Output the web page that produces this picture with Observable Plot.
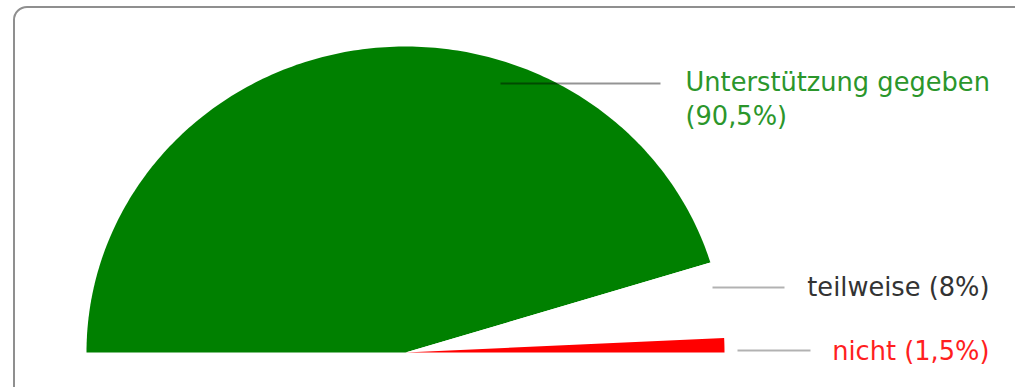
<!DOCTYPE html>
<html>
<head>
<meta charset="utf-8">
<script src="https://cdn.jsdelivr.net/npm/d3@7"></script>
<script src="https://cdn.jsdelivr.net/npm/@observablehq/plot@0.6"></script>
<style>
  html, body { margin: 0; padding: 0; background: #fff; }
  body { width: 1015px; height: 387px; overflow: hidden; position: relative; font-family: "DejaVu Sans", sans-serif; }
  #frame { position: absolute; left: 13px; top: 6px; width: 1040px; height: 420px; border: 2px solid #8f8f8f; border-radius: 14px; box-sizing: border-box; }
  #chart { position: absolute; left: 0; top: 0; }
</style>
</head>
<body>
<div id="frame"></div>
<div id="chart"></div>
<script>
// ---- data ----
const categories = ["Unterstützung gegeben", "teilweise", "nicht"];
const shares = [90.5, 8, 1.5];
const sliceColors = ["#008000", "#ffffff", "#ff0000"];
const labelColors = ["#2b962b", "#333333", "#ff1f1f"];

// ---- geometry (half pie, left -> right) ----
const W = 1015, H = 387;
const cx = 405, cy = 352, rx = 319, ry = 306;
const X = px => (px - cx) / rx;   // pixel -> data helpers for annotation layout
const Y = py => (cy - py) / ry;

const total = d3.sum(shares);
let cum = 0;
const slices = categories.map((c, i) => {
  const a0 = Math.PI * (1 - cum / total);
  cum += shares[i];
  const a1 = Math.PI * (1 - cum / total);
  const pts = [{x: 0, y: 0}];
  const n = 200;
  for (let k = 0; k <= n; k++) {
    const a = a0 + (a1 - a0) * k / n;
    pts.push({x: Math.cos(a), y: Math.sin(a)});
  }
  pts.push({x: 0, y: 0});
  return {cat: c, color: sliceColors[i], pts};
});

const fmt = v => String(v).replace(".", ",") + "%";
const labelText = categories.map((c, i) => i === 0 ? `${c}\n(${fmt(shares[i])})` : `${c} (${fmt(shares[i])})`);

// annotation layout (pixels)
const leaders = [
  {x1: 500, x2: 660, y: 83, stroke: "#000", op: 0.42},
  {x1: 712, x2: 784, y: 287, stroke: "#000", op: 0.3},
  {x1: 737, x2: 810, y: 350, stroke: "#000", op: 0.3}
];
const labelPos = [
  {x: 685, y: 67, anchor: "start", lineAnchor: "top"},
  {x: 989, y: 285, anchor: "end", lineAnchor: "middle"},
  {x: 989, y: 349, anchor: "end", lineAnchor: "middle"}
];

const marks = [];
slices.forEach(s => {
  marks.push(Plot.line(s.pts, {x: "x", y: "y", fill: s.color, stroke: "none", curve: "linear"}));
});
leaders.forEach(l => {
  marks.push(Plot.link([l], {x1: d => X(d.x1), x2: d => X(d.x2), y1: d => Y(d.y), y2: d => Y(d.y),
    stroke: l.stroke, strokeOpacity: l.op, strokeWidth: 2}));
});
labelPos.forEach((p, i) => {
  marks.push(Plot.text([labelText[i]], {x: () => X(p.x), y: () => Y(p.y), text: d => d,
    textAnchor: p.anchor, lineAnchor: p.lineAnchor, lineHeight: 1.3, fill: labelColors[i],
    fontSize: 25.7, fontFamily: "DejaVu Sans"}));
});

const chart = Plot.plot({
  width: W,
  height: H,
  marginLeft: cx - rx,
  marginRight: W - (cx + rx),
  marginTop: cy - ry,
  marginBottom: H - cy,
  x: {domain: [-1, 1], axis: null},
  y: {domain: [0, 1], axis: null},
  style: {background: "transparent", fontFamily: "DejaVu Sans", overflow: "visible"},
  marks
});
document.getElementById("chart").appendChild(chart);
</script>
</body>
</html>
